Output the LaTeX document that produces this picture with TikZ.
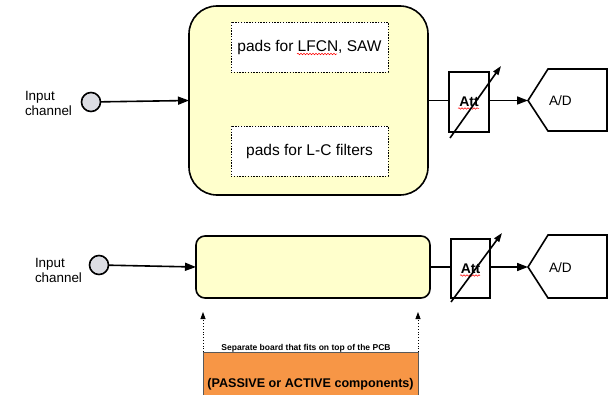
\documentclass[tikz,border=0pt]{standalone}
\usepackage{fontspec}
\setmainfont{Liberation Sans}
\usetikzlibrary{arrows.meta,decorations.pathmorphing}
\definecolor{padyellow}{HTML}{FFFFCC}
\definecolor{boardorange}{HTML}{F79646}
\definecolor{incircle}{HTML}{DCDDE3}
\begin{document}
\begin{tikzpicture}[x=1pt,y=-1pt,
  every node/.style={inner sep=0pt, outer sep=0pt},
  wire/.style={line width=1.6pt},
  tip/.style={-{Triangle[length=11pt,width=8pt]}},
  smalltip/.style={-{Triangle[length=9pt,width=6pt]}},
  inport/.style={circle, draw, line width=1.6pt, fill=incircle, minimum size=19pt},
  lbl/.style={align=left, font=\fontsize{13.4}{15}\selectfont},
  padbox/.style={draw, line width=0.9pt, dash pattern=on 1.4pt off 1.4pt, fill=white,
    minimum width=157pt, minimum height=50pt, font=\fontsize{15.5}{18}\selectfont},
  attbox/.style={draw, line width=1.6pt, fill=white, minimum width=40pt, minimum height=60pt,
    font=\bfseries\fontsize{14}{16}\selectfont},
  spell/.style={red, line width=0.5pt, decorate, decoration={snake, amplitude=0.8pt, segment length=3pt}},
  adtext/.style={font=\fontsize{13.6}{16}\selectfont},
  adshape/.style={draw, line width=1.6pt, fill=white, line join=miter}
]
\useasboundingbox (0,0) rectangle (609,395);

% ---------- top chain ----------
\node[lbl, anchor=west] (lbl1) at (25,103.5) {Input\\channel};
\node[inport] (in1) at (91,102) {};
\node[draw, line width=1.6pt, fill=padyellow, rounded corners=28pt,
      minimum width=239pt, minimum height=189pt] (box1) at (308.5,100.5) {};
\node[padbox] (pad1) at (309.5,47) {pads for LFCN, SAW};
\node[padbox] (pad2) at (309.5,151) {pads for L-C filters};
\draw[spell] (297,54) -- (337,54);
\draw[wire, tip] (in1) -- (box1.west);

\node[attbox] (att1) at (469,102) {Att};
\draw[spell] (458,108.5) -- (479,108.5);
\draw[wire] (box1.east) -- (box1.east -| att1.west);
\coordinate (att1lo) at (450,138);
\coordinate (att1hi) at (501,66);
\draw[wire, smalltip] (att1lo) -- (att1hi);

\coordinate (ad1) at (528,100.5);
\draw[adshape] (ad1) -- (548,69) -- (607,69) -- (607,131) -- (548,131) -- cycle;
\node[adtext, anchor=west] (adt1) at (549,101) {A/D};
\draw[wire, tip] (att1.east |- ad1) -- (ad1);

% ---------- bottom chain ----------
\node[lbl, anchor=west] (lbl2) at (35,270) {Input\\channel};
\node[inport] (in2) at (99,265) {};
\node[draw, line width=1.6pt, fill=padyellow, rounded corners=9pt,
      minimum width=234pt, minimum height=62pt] (box2) at (313,267) {};
\draw[wire, tip] (in2) -- (box2.west);

\node[attbox, minimum width=39pt, minimum height=59pt] (att2) at (470.5,268.5) {Att};
\draw[spell] (460,275.5) -- (480,275.5);
\draw[wire] (box2.east) -- (box2.east -| att2.west);
\coordinate (att2lo) at (451,302);
\coordinate (att2hi) at (502,233);
\draw[wire, smalltip] (att2lo) -- (att2hi);

\coordinate (ad2) at (528,267);
\draw[adshape] (ad2) -- (548,235) -- (607,235) -- (607,298) -- (548,298) -- cycle;
\node[adtext, anchor=west] (adt2) at (549,268) {A/D};
\draw[wire, tip] (att2.east |- ad2) -- (ad2);

% ---------- separate board ----------
\node[fill=boardorange, minimum width=215pt, minimum height=45pt, anchor=north west] (board) at (203,352) {};
\draw[gray!70!black, line width=0.6pt] (board.south west) -- (board.north west) -- (board.north east) -- (board.south east);
\node[font=\bfseries\fontsize{12.6}{15}\selectfont] (boardtxt) at (310.5,384) {(PASSIVE or ACTIVE components)};
\node[font=\bfseries\fontsize{8.5}{10}\selectfont, anchor=base] (boardcap) at (306,350.5) {Separate board that fits on top of the PCB};
\coordinate (upl) at (203,312);
\coordinate (upr) at (418,312);
\draw[line width=0.8pt, dotted, -{Triangle[length=7pt,width=5pt]}] (board.north west) -- (upl);
\draw[line width=0.8pt, dotted, -{Triangle[length=7pt,width=5pt]}] (board.north east) -- (upr);
\end{tikzpicture}
\end{document}
